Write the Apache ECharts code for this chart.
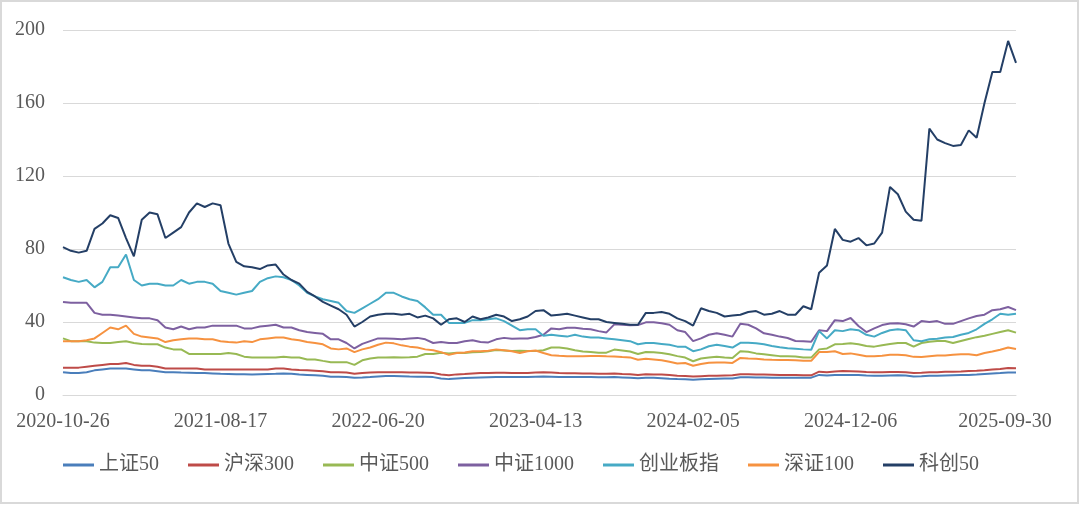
<!DOCTYPE html>
<html>
<head>
<meta charset="utf-8">
<script src="https://cdn.jsdelivr.net/npm/echarts@6/dist/echarts.min.js"></script>
<style>
html,body{margin:0;padding:0;background:#fff;}
#chart{width:1080px;height:505px;}
</style>
</head>
<body>
<div id="chart"></div>
<script>
// Tick labels of the x axis and the category index each one sits on
const tickDates = ['2020-10-26','2021-08-17','2022-06-20','2023-04-13','2024-02-05','2024-12-06','2025-09-30'];
const tickIndex = [0, 20, 40, 60, 80, 100, 121];
const yTicks = [0, 40, 80, 120, 160, 200];

const seriesNames = ['上证50','沪深300','中证500','中证1000','创业板指','深证100','科创50'];

// values (one sample per category)
const sz50 = [12.5,12,12,12.5,13.5,14,14.5,14.5,14.5,14,13.5,13.5,13,12.5,12.5,12.3,12.2,12,12,11.8,
 11.6,11.5,11.4,11.4,11.3,11.4,11.5,11.6,11.8,11.7,11.2,11,10.8,10.5,10,10,9.8,9.5,9.6,9.8,
 10.2,10.4,10.4,10.3,10.1,10,10,9.8,9.1,8.7,9,9.3,9.5,9.6,9.7,9.8,9.9,9.8,9.8,
 9.8,10,10.1,10,9.9,9.9,9.8,9.8,9.8,9.7,9.7,9.8,9.6,9.4,9.2,9.4,9.4,9.2,8.9,8.7,
 8.6,8.4,8.6,8.8,8.9,9,9.1,9.7,9.7,9.6,9.6,9.5,9.4,9.4,9.4,9.5,9.5,11,10.7,11,
 11,11,10.9,10.7,10.6,10.6,10.7,10.8,10.7,10.2,10.3,10.5,10.6,10.7,10.8,10.9,11,11.2,11.5,11.8,12,12.3,12.3];
const hs300 = [15,15,15,15.5,16,16.5,17,17,17.5,16.5,16,16,15.5,14.5,14.5,14.5,14.5,14.5,14,14,
 14,14,14,14,14,14,14,14.5,14.5,14,13.7,13.5,13.3,13,12.5,12.5,12.3,11.6,12,12.3,
 12.4,12.5,12.5,12.4,12.3,12.3,12.2,12,11.2,10.8,11.3,11.5,11.8,12,12,12.2,12.2,12.1,12.1,
 12.1,12.3,12.5,12.3,12,11.9,11.9,11.8,11.8,11.7,11.7,11.8,11.5,11.4,11,11.4,11.3,11.2,10.9,10.6,
 10.4,10.1,10.3,10.5,10.6,10.7,10.8,11.4,11.4,11.3,11.2,11.1,11,11,10.9,10.8,10.8,12.8,12.5,12.9,
 13.1,13,12.9,12.6,12.5,12.5,12.6,12.6,12.5,12.1,12.2,12.4,12.5,12.7,12.8,12.9,13.1,13.3,13.6,14,14.2,14.8,14.7];
const zz500 = [31,29.5,29.5,29.5,28.7,28.5,28.5,29,29.5,28.5,28,27.8,27.8,26,25,25,22.5,22.5,22.5,22.5,
 22.5,23,22.5,21,20.5,20.5,20.5,20.5,21,20.5,20.5,19.5,19.5,18.7,18,18,18,16.5,19,20,
 20.5,20.5,20.7,20.5,20.7,21,22.5,22.5,23.2,22.8,23.2,23,23.4,23.5,24,24.6,24.4,24.1,24.2,
 24.1,24.1,24.5,26,26,25.5,24.5,23.8,23.6,23.2,23.2,24.9,24.4,23.8,22.5,23.6,23.4,23,22.3,21.3,
 20.5,18.5,20,20.5,21,20.5,20.3,24,23.7,22.8,22.3,21.8,21.3,21.2,21.1,20.5,20.5,25,25.5,27.8,
 28,28.3,27.8,26.8,26.5,27.3,28,28.5,28.5,26.5,28.5,29.2,29.6,29.6,28.5,29.6,30.7,31.7,32.5,33.5,34.5,35.5,34.2];
const zz1000 = [51,50.5,50.5,50.5,45,44,44,43.5,43,42.5,42,42,41,37,36,37.5,36,37,37,38,
 38,38,38,36.5,36.5,37.5,38,38.5,37,37,35.5,34.5,34,33.5,30.5,30.5,28.5,25.5,28,29.5,
 31,31,30.8,30.5,31,31.3,30.5,28.5,29,28.5,28.5,29.5,30,29,28.8,30.5,31.3,30.8,31,
 31,31.8,33,36.5,36,36.8,36.8,36.3,36,35,34.3,38.7,38.5,38.2,38.3,39.8,39.8,39.3,38.5,35.5,
 34.5,29.5,31,33,33.8,33,32,39,38.5,36.5,33.8,33,32,31.2,29.6,29.5,29.2,35.5,35,41,
 40.5,42.2,37.8,34.5,36.5,38.3,39.2,39.3,38.8,37.5,40.5,40,40.5,39,39,40.5,42,43.3,44,46.5,47,48.2,46.5];
const cyb = [64.5,63,62,63,59,62,70,70,77,63,60,61,61,60,60,63,61,62,62,61,
 57,56,55,56,57,62,64,65,64.5,63,60,56,54,52.5,51.5,50.5,46,45,47.5,50,
 52.5,56,56,54,52.5,51.5,48,44,44,39.5,39.5,39.5,41,41,41.5,42,40.5,38,35.5,
 36,36,32.5,33,32.5,32,33,32,31.5,31.5,31,30.5,30,29.5,27.8,28.5,28.5,28,27.5,26.5,
 26.5,24,25,26.7,27.5,26.8,26,28.6,28.6,28.4,27.8,26.9,26.2,25.6,25.3,25,24.8,35,31,35.5,
 35,36,35.5,33,32,34,35.5,36,35.5,30,29.5,30.5,30.8,31.5,31.8,33,34,36,39,41.5,44.5,44,44.5];
const sz100 = [29.5,29.5,29.5,30,31,34,37,36,38,33.5,32,31.5,31,29,30,30.5,31,31,30.5,30.5,
 29.5,29,28.7,29.5,29,30.5,31,31.5,31.5,30.5,30,29,28.5,27.8,25.5,25,25.5,23.5,25,26,
 27.5,28.7,28.3,27.2,26.5,26,25,24.5,23.5,22,23,23.3,24,24,24.3,25,24.5,24,23,
 24,24.4,23,21.8,21.5,21.3,21.2,21.3,21.4,21.4,21.2,21.1,20.8,20.6,19.3,19.8,19.5,19,18.2,17.3,
 17.5,16,17,17.7,17.8,17.8,17.6,20.3,20,19.8,19.5,19.3,19.2,19.2,19.1,18.8,18.7,23.5,23.5,24,
 22.5,22.8,22,21.2,21.3,21.5,22,22.1,21.8,20.9,20.8,21.2,21.6,21.6,22,22.3,22.3,21.8,23,23.8,24.8,26,25.2];
const kc50 = [81,79,78,79,91,94,98.5,97,86,76,96,100,99,86,89,92,100,105,103,105,
 104,83,73,70.5,70,69,71,71.5,66,63,61,56.5,54,51,49,47,44,37.5,40,43,
 44,44.5,44.5,44,44.5,42.5,43.5,42,38.5,41.5,42,40,43,41.5,42.5,44,43,40.5,41.5,
 43,46,46.5,43.5,44,44.5,43.5,42.5,41.5,41.5,40,39.5,39,38.5,38.5,45,45,45.5,44.5,42,
 40.5,38,47.5,46,45,43,43.5,44,45.5,46,44,44.5,46,44,44,48.6,47,67,71,91,
 85,84,86,82,83,89,114,110,100.5,96,95.5,146,140,138,136.5,137,145,141,160,177,177,194,182];

const colors = ['#4A7EBB','#BE4B48','#98B954','#7D60A0','#46AAC5','#F69240','#243F66'];
const seriesData = [sz50, hs300, zz500, zz1000, cyb, sz100, kc50];

// categories: tick dates at their index, calendar dates spread between them
function buildCategories() {
  const n = tickIndex[tickIndex.length - 1] + 1;
  const out = new Array(n);
  for (let k = 0; k < tickIndex.length - 1; k++) {
    const a = tickIndex[k], b = tickIndex[k + 1];
    const ta = Date.parse(tickDates[k]), tb = Date.parse(tickDates[k + 1]);
    for (let i = a; i <= b; i++) {
      const t = ta + (tb - ta) * (i - a) / (b - a);
      out[i] = new Date(t).toISOString().slice(0, 10);
    }
  }
  tickIndex.forEach((ix, k) => { out[ix] = tickDates[k]; });
  return out;
}
const categories = buildCategories();
const lastIdx = categories.length - 1;

const FONT = "'Liberation Serif','Times New Roman','Noto Sans CJK SC',serif";
const TXT = '#595959';

const chart = echarts.init(document.getElementById('chart'), null, {renderer: 'canvas'});
chart.setOption({
  animation: false,
  backgroundColor: '#fff',
  color: colors,
  graphic: [{
    type: 'rect', silent: true, z: -1,
    shape: {x: 1, y: 1, width: 1077, height: 502},
    style: {fill: 'none', stroke: '#D9D9D9', lineWidth: 2}
  }],
  grid: {left: 63, right: 64, top: 30, bottom: 110, containLabel: false},
  legend: {
    data: seriesNames,
    left: 58, top: 450,
    icon: 'rect', itemWidth: 31, itemHeight: 3, itemGap: 29,
    textStyle: {fontFamily: FONT, fontSize: 20, color: TXT}
  },
  xAxis: {
    type: 'category', data: categories, boundaryGap: false,
    axisLine: {show: true, lineStyle: {color: '#D9D9D9', width: 1}},
    axisTick: {show: false},
    splitLine: {show: false},
    axisLabel: {
      interval: (idx) => tickIndex.includes(idx),
      showMaxLabel: true,
      margin: 17,
      fontFamily: FONT, fontSize: 20, color: TXT,
      formatter: (v, idx) => idx === lastIdx ? '{last|' + v + '}' : v,
      rich: {last: {fontFamily: FONT, fontSize: 20, color: TXT, padding: [0, 22, 0, 0]}}
    }
  },
  yAxis: {
    type: 'value', min: yTicks[0], max: yTicks[yTicks.length - 1], interval: 40,
    axisLine: {show: false}, axisTick: {show: false},
    splitLine: {lineStyle: {color: '#D9D9D9', width: 1}},
    axisLabel: {margin: 18, fontFamily: FONT, fontSize: 20, color: TXT}
  },
  series: seriesNames.map((name, k) => ({
    name, type: 'line', data: seriesData[k],
    showSymbol: false, symbol: 'none',
    lineStyle: {width: 2, color: colors[k]},
    itemStyle: {color: colors[k]},
    z: k === 6 ? 3 : 2
  }))
});
</script>
</body>
</html>
